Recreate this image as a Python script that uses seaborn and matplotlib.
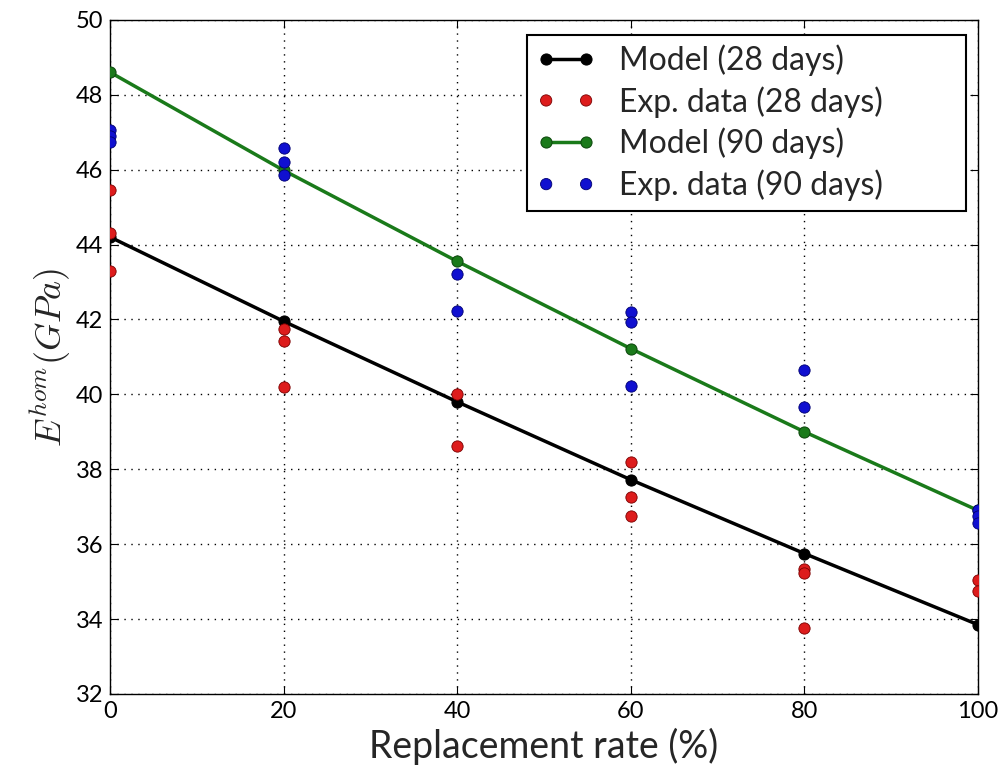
import matplotlib
matplotlib.use('Agg')
import matplotlib.pyplot as plt
import pandas as pd
import seaborn as sns

# replacement rates (%)
rates = [0, 20, 40, 60, 80, 100]

# model predictions (GPa)
model_28 = [44.2, 41.95, 39.8, 37.72, 35.75, 33.85]
model_90 = [48.6, 45.98, 43.55, 41.22, 39.0, 36.9]

# experimental points (GPa)
exp_28_x = [0, 0, 0, 20, 20, 20, 40, 40, 60, 60, 60, 80, 80, 80, 100, 100]
exp_28_y = [45.45, 44.3, 43.3, 41.75, 41.43, 40.2, 40.0, 38.62,
            38.2, 37.27, 36.74, 35.34, 35.23, 33.77, 35.04, 34.75]
exp_90_x = [0, 0, 0, 20, 20, 20, 40, 40, 60, 60, 60, 80, 80, 100, 100, 100]
exp_90_y = [47.05, 46.9, 46.75, 46.58, 46.21, 45.86, 43.21, 42.23,
            42.19, 41.94, 40.21, 40.65, 39.67, 36.91, 36.75, 36.57]

df_model28 = pd.DataFrame({'rate': rates, 'E': model_28})
df_model90 = pd.DataFrame({'rate': rates, 'E': model_90})
df_exp28 = pd.DataFrame({'rate': exp_28_x, 'E': exp_28_y})
df_exp90 = pd.DataFrame({'rate': exp_90_x, 'E': exp_90_y})

sns.set_style('ticks')
plt.rcParams['font.family'] = ['Lato', 'DejaVu Sans']
plt.rcParams['mathtext.fontset'] = 'cm'

fig = plt.figure(figsize=(10.04, 7.67), dpi=100)
ax = fig.add_axes([0.1096, 0.0952, 0.8645, 0.879])

sns.lineplot(data=df_model28, x='rate', y='E', ax=ax, color='black', lw=2.5,
             marker='o', markersize=8, markeredgecolor='black',
             label='Model (28 days)', zorder=3)
sns.scatterplot(data=df_exp28, x='rate', y='E', ax=ax, color='#dd1c1c',
                s=66, edgecolor='#7a0000', linewidth=0.6,
                label='Exp. data (28 days)', zorder=4)
sns.lineplot(data=df_model90, x='rate', y='E', ax=ax, color='#1a7a1a', lw=2.5,
             marker='o', markersize=8, markeredgecolor='#0e4a0e',
             label='Model (90 days)', zorder=3)
sns.scatterplot(data=df_exp90, x='rate', y='E', ax=ax, color='#1010d0',
                s=66, edgecolor='#000070', linewidth=0.6,
                label='Exp. data (90 days)', zorder=4)

ax.set_xlim(0, 100)
ax.set_ylim(32, 50)
ax.set_xticks(range(0, 101, 20))
ax.set_yticks(range(32, 51, 2))
ax.grid(True, color='black', linestyle=(0, (1, 4)), linewidth=1)
ax.tick_params(direction='in', top=True, right=True, length=6, labelsize=17,
               colors='black', pad=5)
for sp in ax.spines.values():
    sp.set_color('black')
    sp.set_linewidth(1)

ax.set_xlabel('Replacement rate (%)', fontsize=27, labelpad=4)
ax.set_ylabel(r'$E^{hom}(GPa)$', fontsize=26, labelpad=2)

# legend box stretched to the width seen in the original
handles, labels = ax.get_legend_handles_labels()
leg = ax.legend(handles, labels, loc='upper left',
                bbox_to_anchor=(0.4804, 0.978, 0.5056, 0.0), mode='expand',
                borderaxespad=0, fontsize=23,
                frameon=True, fancybox=False, edgecolor='black',
                framealpha=1, borderpad=0.3, handlelength=1.85,
                handletextpad=0.72, labelspacing=0.32,
                numpoints=2, scatterpoints=2, scatteryoffsets=[0.5])
leg.get_frame().set_linewidth(1.5)

plt.savefig('out.png', dpi=100)
